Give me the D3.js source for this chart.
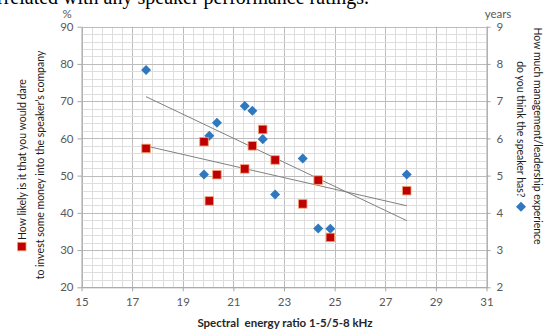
<!DOCTYPE html>
<html>
<head>
<meta charset="utf-8">
<script src="https://cdn.jsdelivr.net/npm/d3@7"></script>
<style>
  html, body { margin: 0; padding: 0; background: #fff; }
  svg { display: block; }
  text { font-family: Lato, "Open Sans", sans-serif; }
</style>
</head>
<body>
<div id="chart"></div>
<script>
// values
const spectralRatio = [17.55, 19.84, 20.05, 20.35, 21.45, 21.75, 22.16, 22.65, 23.74, 24.35, 24.83, 27.85];
const investPct = [57.3, 59.1, 43.2, 50.25, 51.8, 58.0, 62.4, 54.2, 42.4, 48.8, 33.4, 45.95];
const experienceYears = [7.84, 5.03, 6.07, 6.42, 6.87, 6.74, 5.98, 4.49, 5.46, 3.58, 3.57, 5.03];

// linear trendline end points (x from first to last speaker)
const trendX = [17.55, 27.85];
const investTrend = [57.96, 41.9];
const experienceTrend = [7.12, 3.79];

const xTicks = [15, 17, 19, 21, 23, 25, 27, 29, 31];
const leftTicks = [20, 30, 40, 50, 60, 70, 80, 90];
const rightTicks = [2, 3, 4, 5, 6, 7, 8, 9];

const width = 547, height = 330;
const svg = d3.select('#chart').append('svg')
  .attr('width', width)
  .attr('height', height);

const x = d3.scaleLinear().domain([15, 31]).range([81.5, 486.5]);
const yL = d3.scaleLinear().domain([20, 90]).range([287.3, 26.7]);
const yR = d3.scaleLinear().domain([2, 9]).range([287.3, 26.7]);

// cut-off caption from the page above the figure
svg.append('text')
  .attr('x', -3)
  .attr('y', 4)
  .style('font-family', '"Liberation Serif", "DejaVu Serif", serif')
  .style('font-size', '20px')
  .attr('fill', '#000')
  .text('rrelated with any speaker performance ratings.');

// gridlines
const grid = svg.append('g');
d3.range(0, 41).forEach(i => {
  const v = 15 + i * 0.4;
  const major = i % 5 === 0;
  grid.append('line')
    .attr('x1', Math.round(x(v)) + 0.5).attr('x2', Math.round(x(v)) + 0.5)
    .attr('y1', yL(90)).attr('y2', yL(20))
    .attr('stroke', major ? '#bcbcbc' : '#dedede')
    .attr('stroke-width', 1);
});
d3.range(0, 36).forEach(i => {
  const v = 20 + i * 2;
  const major = i % 5 === 0;
  grid.append('line')
    .attr('x1', x(15)).attr('x2', x(31))
    .attr('y1', Math.round(yL(v)) + 0.5).attr('y2', Math.round(yL(v)) + 0.5)
    .attr('stroke', major ? '#bcbcbc' : '#dedede')
    .attr('stroke-width', 1);
});

// axes
const styleAxis = g => {
  g.select('.domain').attr('stroke', '#a6a6a6');
  g.selectAll('.tick line').attr('stroke', '#a6a6a6');
  g.selectAll('.tick text')
    .attr('fill', '#595959')
    .style('font-size', '11.5px')
    .style('font-family', 'Lato, sans-serif');
};

svg.append('g')
  .attr('transform', `translate(0,${yL(20)})`)
  .call(d3.axisBottom(x).tickValues(xTicks).tickFormat(d3.format('d')).tickSize(4).tickSizeOuter(0).tickPadding(7))
  .call(styleAxis);

svg.append('g')
  .attr('transform', `translate(${x(15)},0)`)
  .call(d3.axisLeft(yL).tickValues(leftTicks).tickFormat(d3.format('d')).tickSize(4).tickSizeOuter(0).tickPadding(4))
  .call(styleAxis);

svg.append('g')
  .attr('transform', `translate(${x(31)},0)`)
  .call(d3.axisRight(yR).tickValues(rightTicks).tickFormat(d3.format('d')).tickSize(4).tickSizeOuter(0).tickPadding(6))
  .call(styleAxis);

// unit labels
svg.append('text')
  .attr('x', 67).attr('y', 18)
  .attr('text-anchor', 'middle')
  .attr('fill', '#595959')
  .style('font-size', '11.5px')
  .text('%');
svg.append('text')
  .attr('x', 498).attr('y', 18)
  .attr('text-anchor', 'middle')
  .attr('fill', '#595959')
  .style('font-size', '11.5px')
  .text('years');

// x axis title
svg.append('text')
  .attr('x', 285).attr('y', 327)
  .attr('text-anchor', 'middle')
  .attr('fill', '#262626')
  .style('font-size', '11.5px')
  .style('font-weight', 'bold')
  .attr('xml:space', 'preserve')
  .text('Spectral  energy ratio 1-5/5-8 kHz');

// trendlines
const line = d3.line().x(d => x(d[0])).y(d => d[1]);
svg.append('path')
  .attr('d', line(trendX.map((v, i) => [v, yL(investTrend[i])])))
  .attr('fill', 'none').attr('stroke', '#808080').attr('stroke-width', 1);
svg.append('path')
  .attr('d', line(trendX.map((v, i) => [v, yR(experienceTrend[i])])))
  .attr('fill', 'none').attr('stroke', '#808080').attr('stroke-width', 1);

// markers
const diamond = d3.symbol().type(d3.symbolDiamond2).size(64);
svg.append('g').selectAll('path')
  .data(spectralRatio)
  .join('path')
  .attr('d', diamond)
  .attr('transform', (d, i) => `translate(${x(d)},${yR(experienceYears[i])})`)
  .attr('fill', '#2f78c0');

const sq = 8.5;
svg.append('g').selectAll('rect')
  .data(spectralRatio)
  .join('rect')
  .attr('x', d => x(d) - sq / 2)
  .attr('y', (d, i) => yL(investPct[i]) - sq / 2)
  .attr('width', sq).attr('height', sq)
  .attr('fill', '#c00000')
  .attr('stroke', '#f0a070')
  .attr('stroke-width', 0.8);

// left axis title with legend marker (reads bottom to top)
const titleSize = '10.5px';
const left = svg.append('g').attr('transform', 'translate(0,165) rotate(-90)');
const leftLine1 = left.append('text')
  .attr('x', 0).attr('y', 26)
  .attr('text-anchor', 'middle')
  .attr('fill', '#1a1a1a')
  .style('font-size', titleSize);
leftLine1.append('tspan').attr('fill', 'none').text('\u00a0\u00a0\u00a0\u00a0');
leftLine1.append('tspan').text('How likely is it that you would dare');
left.append('text')
  .attr('x', 0).attr('y', 44)
  .attr('text-anchor', 'middle')
  .attr('fill', '#1a1a1a')
  .style('font-size', titleSize)
  .text('to invest some money into the speaker\u2019s company');
const l1 = leftLine1.node().getComputedTextLength();
left.append('rect')
  .attr('x', -l1 / 2).attr('y', 17.5)
  .attr('width', 8.5).attr('height', 8.5)
  .attr('fill', '#c00000')
  .attr('stroke', '#f0a070').attr('stroke-width', 0.8);

// right axis title with legend marker (reads top to bottom)
const right = svg.append('g').attr('transform', 'translate(547,136) rotate(90)');
right.append('text')
  .attr('x', 0).attr('y', 13)
  .attr('text-anchor', 'middle')
  .attr('fill', '#1a1a1a')
  .style('font-size', titleSize)
  .text('How much management/leadership experience');
const rightLine2 = right.append('text')
  .attr('x', 0).attr('y', 30)
  .attr('text-anchor', 'middle')
  .attr('fill', '#1a1a1a')
  .style('font-size', titleSize);
rightLine2.append('tspan').text('do you think the speaker has?');
rightLine2.append('tspan').attr('fill', 'none').text('\u00a0\u00a0\u00a0\u00a0\u00a0');
const r2 = rightLine2.node().getComputedTextLength();
right.append('path')
  .attr('d', diamond)
  .attr('transform', `translate(${r2 / 2 - 4},26)`)
  .attr('fill', '#2f78c0');
</script>
</body>
</html>
